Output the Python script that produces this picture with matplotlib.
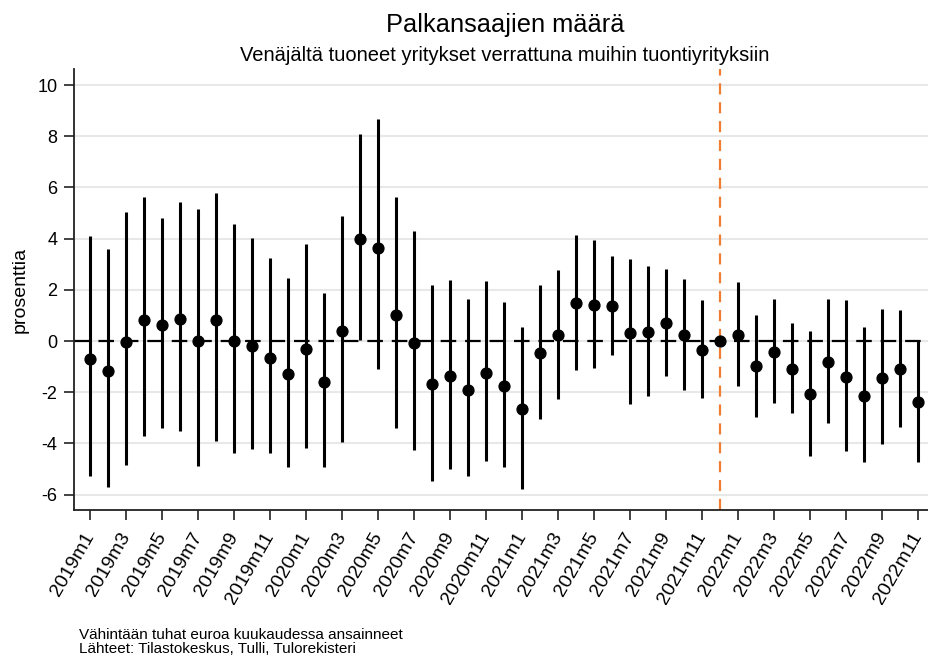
import matplotlib
matplotlib.use("Agg")
import matplotlib.pyplot as plt
import numpy as np

plt.rcParams['font.family'] = ['Liberation Sans', 'DejaVu Sans']

months = [f"{y}m{m}" for y in range(2019, 2023) for m in range(1, 13)][:47]

estimate = [-0.70, -1.17, -0.03, 0.83, 0.61, 0.86, 0.01, 0.83, 0.00, -0.20,
            -0.65, -1.30, -0.30, -1.59, 0.38, 3.98, 3.65, 1.00, -0.08, -1.69,
            -1.37, -1.90, -1.24, -1.76, -2.67, -0.46, 0.23, 1.47, 1.42, 1.38,
            0.33, 0.36, 0.69, 0.22, -0.35, 0.00, 0.25, -0.98, -0.42, -1.08,
            -2.06, -0.81, -1.39, -2.14, -1.43, -1.09, -2.40]
upper = [4.11, 3.58, 5.05, 5.61, 4.79, 5.42, 5.17, 5.79, 4.56, 4.01,
         3.24, 2.47, 3.80, 1.86, 4.90, 8.09, 8.66, 5.61, 4.28, 2.19,
         2.37, 1.63, 2.34, 1.54, 0.56, 2.20, 2.79, 4.14, 3.93, 3.33,
         3.19, 2.94, 2.81, 2.41, 1.59, 0.00, 2.29, 1.00, 1.63, 0.69,
         0.40, 1.65, 1.60, 0.53, 1.26, 1.21, 0.00]
lower = [-5.27, -5.70, -4.86, -3.71, -3.39, -3.50, -4.87, -3.92, -4.36, -4.21,
         -4.39, -4.93, -4.18, -4.91, -3.93, 0.03, -1.11, -3.39, -4.26, -5.46,
         -4.99, -5.29, -4.70, -4.93, -5.78, -3.06, -2.25, -1.12, -1.04, -0.55,
         -2.45, -2.15, -1.37, -1.91, -2.24, 0.00, -1.76, -2.96, -2.41, -2.83,
         -4.48, -3.20, -4.30, -4.71, -4.04, -3.36, -4.74]
reference_month = "2021m12"

title = "Palkansaajien määrä"
subtitle = "Venäjältä tuoneet yritykset verrattuna muihin tuontiyrityksiin"
ylabel = "prosenttia"
notes = ["Vähintään tuhat euroa kuukaudessa ansainneet",
         "Lähteet: Tilastokeskus, Tulli, Tulorekisteri"]
yticks = [-6, -4, -2, 0, 2, 4, 6, 8, 10]

fig = plt.figure(figsize=(9.29, 6.56), dpi=100)
ax = fig.add_axes([74/929, 1-510/656, 1-74/929, (510-69)/656])

x = np.arange(len(months))
ax.set_xlim(-0.889, 46.61)
ax.set_ylim(-6.60, 10.625)

for yv in yticks:
    ax.axhline(yv, color='#e8e8e8', lw=1.5, zorder=0)

ax.axhline(0, color='black', lw=1.6, dashes=(7, 4), zorder=1)
ref_idx = months.index(reference_month)
ax.axvline(ref_idx, color='#ef7d32', lw=1.6, dashes=(5, 3.5), zorder=1)

est = np.array(estimate)
ax.vlines(x, lower, upper, color='black', lw=2.2, zorder=2)
ax.plot(x, est, 'o', color='black', ms=7.8, zorder=3)

ax.set_yticks(yticks)
ax.set_yticklabels([str(v) for v in yticks], fontsize=13)
ax.set_xticks(x[::2])
ax.set_xticklabels(months[::2], rotation=60, ha='right', va='center',
                   rotation_mode='anchor', fontsize=14)
ax.tick_params(axis='both', length=7, width=1.2, color='#222222')
ax.tick_params(axis='x', pad=10)
ax.tick_params(axis='y', pad=5)
ax.set_ylabel(ylabel, fontsize=14, labelpad=6)

for s in ['top', 'right']:
    ax.spines[s].set_visible(False)
for s in ['left', 'bottom']:
    ax.spines[s].set_linewidth(1.3)
    ax.spines[s].set_color('#222222')

fig.text(505/929, 1-32/656, title, ha='center', va='baseline', fontsize=18.3)
fig.text(505/929, 1-61/656, subtitle, ha='center', va='baseline', fontsize=14.5)
fig.text(79/929, 1-639/656, notes[0], ha='left', va='baseline', fontsize=11)
fig.text(79/929, 1-653/656, notes[1], ha='left', va='baseline', fontsize=11)

fig.savefig("out.png", dpi=100)
